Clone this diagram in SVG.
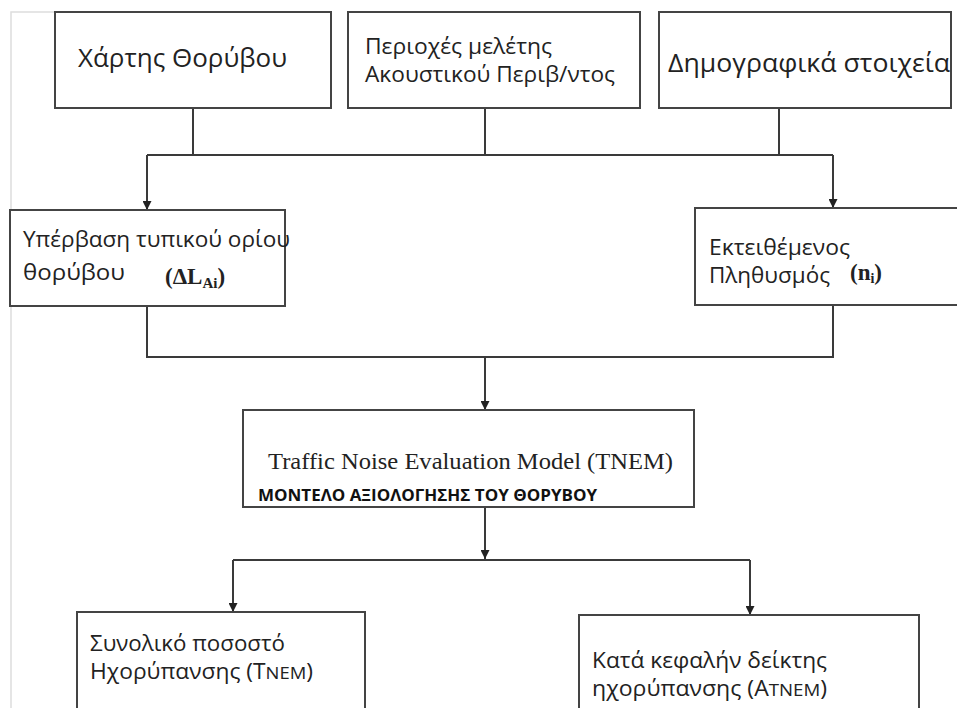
<svg xmlns="http://www.w3.org/2000/svg" width="957" height="708" viewBox="0 0 957 708">
<style>
.box{fill:#fff;stroke:#444;stroke-width:2}
.frame{fill:none;stroke:#ddd;stroke-width:1.5}
.ln{fill:none;stroke:#3a3a3a;stroke-width:2}
.t{font-family:"Open Sans","Noto Sans",sans-serif;fill:#222}
.s{font-family:"Liberation Serif","Times New Roman",serif;fill:#222}
.b{font-family:"Open Sans","Noto Sans",sans-serif;font-weight:bold;fill:#111}
</style>
<defs>
<marker id="ah" viewBox="0 0 10 10" refX="10" refY="5" markerWidth="4.5" markerHeight="4.5" orient="auto" markerUnits="strokeWidth">
<path d="M0,0 L10,5 L0,10 z" fill="#222"/>
</marker>
</defs>
<rect width="957" height="708" fill="#fff"/>
<path class="frame" d="M11,708 V12 H56"/>
<g id="connectors">
<path class="ln" d="M193,108 V155"/>
<path class="ln" d="M485,108 V155"/>
<path class="ln" d="M779,108 V155"/>
<path class="ln" d="M147,155 H833"/>
<path class="ln" d="M147,155 V210" marker-end="url(#ah)"/>
<path class="ln" d="M833,155 V208" marker-end="url(#ah)"/>
<path class="ln" d="M147,306 V357 H833 V305"/>
<path class="ln" d="M485,357 V410" marker-end="url(#ah)"/>
<path class="ln" d="M485,507 V559" marker-end="url(#ah)"/>
<path class="ln" d="M233,560 H750"/>
<path class="ln" d="M233,560 V612" marker-end="url(#ah)"/>
<path class="ln" d="M750,560 V615" marker-end="url(#ah)"/>
</g>
<g id="n1">
<rect class="box" x="55" y="12" width="276" height="96"/>
<text class="t" x="78" y="67" font-size="25" textLength="209" lengthAdjust="spacingAndGlyphs">Χάρτης Θορύβου</text>
</g>
<g id="n2">
<rect class="box" x="348" y="12" width="292" height="96"/>
<text class="t" x="365" y="54" font-size="21" textLength="187" lengthAdjust="spacingAndGlyphs">Περιοχές μελέτης</text>
<text class="t" x="365" y="82" font-size="21" textLength="250" lengthAdjust="spacingAndGlyphs">Ακουστικού Περιβ/ντος</text>
</g>
<g id="n3">
<rect class="box" x="659" y="12" width="292" height="96"/>
<text class="t" x="668" y="72" font-size="25" textLength="282" lengthAdjust="spacingAndGlyphs">Δημογραφικά στοιχεία</text>
</g>
<g id="n4">
<rect class="box" x="10" y="210" width="275" height="96"/>
<text class="t" x="23" y="247" font-size="21" textLength="267" lengthAdjust="spacingAndGlyphs">Υπέρβαση τυπικού ορίου</text>
<text class="t" x="23" y="280" font-size="21" textLength="102" lengthAdjust="spacingAndGlyphs">θορύβου</text>
<text class="s" x="165" y="284" font-size="23" font-weight="bold">(ΔL<tspan font-size="15" dy="4">Ai</tspan><tspan dy="-4">)</tspan></text>
</g>
<g id="n5">
<rect class="box" x="695" y="208" width="270" height="97"/>
<text class="t" x="709" y="255" font-size="21" textLength="141" lengthAdjust="spacingAndGlyphs">Εκτειθέμενος</text>
<text class="t" x="709" y="283" font-size="21" textLength="121" lengthAdjust="spacingAndGlyphs">Πληθυσμός</text>
<text class="s" x="850" y="280" font-size="23" font-weight="bold">(n<tspan font-size="14" dy="3">i</tspan><tspan dy="-3">)</tspan></text>
</g>
<g id="n6">
<rect class="box" x="243" y="410" width="451" height="97"/>
<text class="s" x="268" y="469" font-size="24" textLength="405" lengthAdjust="spacingAndGlyphs">Traffic Noise Evaluation Model (TNEM)</text>
<text class="b" x="258" y="501" font-size="16" textLength="339" lengthAdjust="spacingAndGlyphs">ΜΟΝΤΕΛΟ ΑΞΙΟΛΟΓΗΣΗΣ ΤΟΥ ΘΟΡΥΒΟΥ</text>
</g>
<g id="n7">
<rect class="box" x="77" y="612" width="288" height="110"/>
<text class="t" x="90" y="651" font-size="21" textLength="195" lengthAdjust="spacingAndGlyphs">Συνολικό ποσοστό</text>
<text class="t" x="90" y="679" font-size="21" textLength="223" lengthAdjust="spacingAndGlyphs">Ηχορύπανσης (T<tspan font-size="17">NEM</tspan>)</text>
</g>
<g id="n8">
<rect class="box" x="579" y="615" width="340" height="110"/>
<text class="t" x="592" y="668" font-size="21" textLength="235" lengthAdjust="spacingAndGlyphs">Κατά κεφαλήν δείκτης</text>
<text class="t" x="592" y="696" font-size="21" textLength="235" lengthAdjust="spacingAndGlyphs">ηχορύπανσης (Α<tspan font-size="17">ΤΝΕΜ</tspan>)</text>
</g>
</svg>
